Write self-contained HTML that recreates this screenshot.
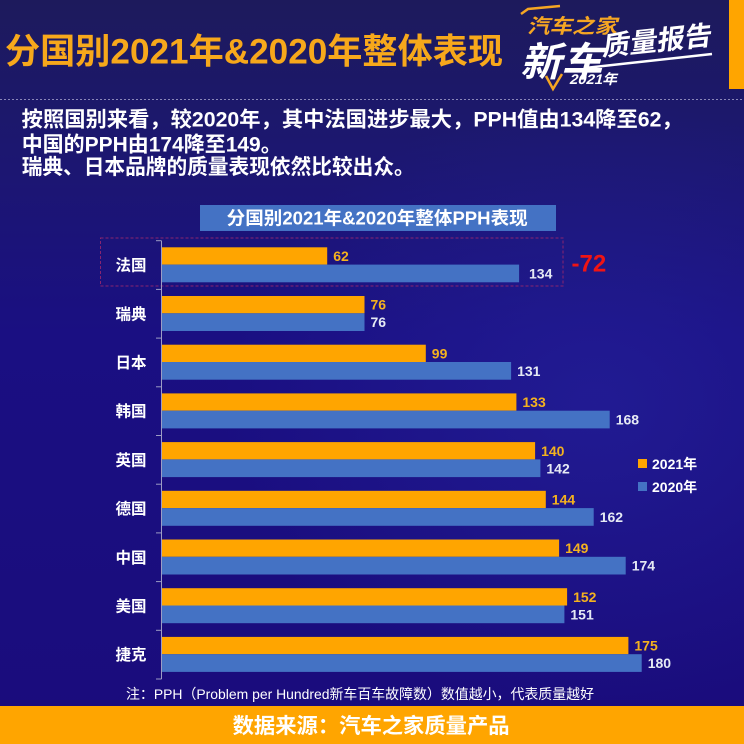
<!DOCTYPE html>
<html><head><meta charset="utf-8">
<style>
html,body{margin:0;padding:0;width:744px;height:744px;overflow:hidden;background:#1b1468;}
svg{display:block;}
text{font-family:"Liberation Sans","Noto Sans CJK SC",sans-serif;}
</style></head>
<body>
<svg width="744" height="744" viewBox="0 0 744 744" xmlns="http://www.w3.org/2000/svg">
<defs>
<linearGradient id="bg" x1="0" y1="0" x2="0" y2="1">
<stop offset="0" stop-color="#1d1a5c"/>
<stop offset="0.2" stop-color="#1c1770"/>
<stop offset="0.45" stop-color="#1a0f82"/>
<stop offset="1" stop-color="#1a0c7c"/>
</linearGradient>
<radialGradient id="glow" cx="0.8" cy="0.5" r="0.5">
<stop offset="0" stop-color="#2a2aa8" stop-opacity="0.45"/>
<stop offset="1" stop-color="#2a2aa8" stop-opacity="0"/>
</radialGradient>
</defs>
<rect x="0" y="0" width="744" height="744" fill="url(#bg)"/>
<rect x="0" y="100" width="744" height="606" fill="url(#glow)"/>

<!-- header -->
<rect x="729" y="0" width="15" height="89" fill="#FFA500"/>
<line x1="0" y1="99.5" x2="744" y2="99.5" stroke="#8a86b8" stroke-width="1" stroke-dasharray="2,2"/>
<text x="5" y="63.5" font-size="35" font-weight="bold" fill="#F7A81B" textLength="498" lengthAdjust="spacingAndGlyphs">分国别2021年&amp;2020年整体表现</text>

<!-- logo -->
<g>
<polyline points="521,14 528,9 560,6" fill="none" stroke="#F5A623" stroke-width="2.5"/>
<polyline points="546,76 553,89 562,74" fill="none" stroke="#F5A623" stroke-width="2.5"/>
<text x="0" y="0" font-size="20" font-weight="bold" fill="#F5A623" transform="translate(527,33) skewX(-15)" textLength="90" lengthAdjust="spacingAndGlyphs">汽车之家</text>
<text x="0" y="0" font-size="40" font-weight="bold" fill="#ffffff" transform="translate(520,76) skewX(-15)" textLength="82" lengthAdjust="spacingAndGlyphs">新车</text>
<text x="0" y="0" font-size="27" font-weight="bold" fill="#ffffff" transform="translate(602,56) rotate(-6) skewX(-12)" textLength="110" lengthAdjust="spacingAndGlyphs">质量报告</text>
<line x1="585" y1="68" x2="712" y2="54" stroke="#ffffff" stroke-width="2.5"/>
<text x="0" y="0" font-size="14" font-weight="bold" fill="#ffffff" transform="translate(569,84) skewX(-15)" textLength="48" lengthAdjust="spacingAndGlyphs">2021年</text>
</g>

<!-- body text -->
<text x="21.7" y="126.5" font-size="21" font-weight="bold" fill="#ffffff" textLength="661" lengthAdjust="spacingAndGlyphs">按照国别来看，较2020年，其中法国进步最大，PPH值由134降至62，</text>
<text x="21.7" y="151.5" font-size="21" font-weight="bold" fill="#ffffff" textLength="260" lengthAdjust="spacingAndGlyphs">中国的PPH由174降至149。</text>
<text x="21.7" y="174" font-size="21" font-weight="bold" fill="#ffffff" textLength="393" lengthAdjust="spacingAndGlyphs">瑞典、日本品牌的质量表现依然比较出众。</text>

<!-- chart title banner -->
<rect x="200" y="205" width="356" height="26" fill="#4472C4"/>
<text x="226.7" y="224.5" font-size="18" font-weight="bold" fill="#ffffff" textLength="301" lengthAdjust="spacingAndGlyphs">分国别2021年&amp;2020年整体PPH表现</text>

<!-- france dashed box -->
<rect x="100.5" y="238" width="462.5" height="48" fill="none" stroke="#8a2470" stroke-width="1" stroke-dasharray="3,2"/>
<text x="571.5" y="271.5" font-size="24" font-weight="bold" fill="#F01414">-72</text>

<!-- axis -->
<line x1="161.5" y1="240.7" x2="161.5" y2="679" stroke="#9c9cc4" stroke-width="1"/>
<g stroke="#9c9cc4" stroke-width="1">
<line x1="156" y1="240.7" x2="161.5" y2="240.7"/>
<line x1="156" y1="289.4" x2="161.5" y2="289.4"/>
<line x1="156" y1="338.1" x2="161.5" y2="338.1"/>
<line x1="156" y1="386.8" x2="161.5" y2="386.8"/>
<line x1="156" y1="435.5" x2="161.5" y2="435.5"/>
<line x1="156" y1="484.2" x2="161.5" y2="484.2"/>
<line x1="156" y1="532.9" x2="161.5" y2="532.9"/>
<line x1="156" y1="581.6" x2="161.5" y2="581.6"/>
<line x1="156" y1="630.3" x2="161.5" y2="630.3"/>
<line x1="156" y1="679" x2="161.5" y2="679"/>
</g>

<!-- bars -->
<g>
<rect x="162" y="247.3" width="165.2" height="17.3" fill="#FFA500"/>
<rect x="162" y="264.6" width="357.1" height="17.7" fill="#4472C4"/>
<rect x="162" y="296.0" width="202.5" height="17.3" fill="#FFA500"/>
<rect x="162" y="313.3" width="202.5" height="17.7" fill="#4472C4"/>
<rect x="162" y="344.7" width="263.8" height="17.3" fill="#FFA500"/>
<rect x="162" y="362.0" width="349.1" height="17.7" fill="#4472C4"/>
<rect x="162" y="393.4" width="354.4" height="17.3" fill="#FFA500"/>
<rect x="162" y="410.7" width="447.7" height="17.7" fill="#4472C4"/>
<rect x="162" y="442.1" width="373.1" height="17.3" fill="#FFA500"/>
<rect x="162" y="459.4" width="378.4" height="17.7" fill="#4472C4"/>
<rect x="162" y="490.8" width="383.8" height="17.3" fill="#FFA500"/>
<rect x="162" y="508.1" width="431.7" height="17.7" fill="#4472C4"/>
<rect x="162" y="539.5" width="397.1" height="17.3" fill="#FFA500"/>
<rect x="162" y="556.8" width="463.7" height="17.7" fill="#4472C4"/>
<rect x="162" y="588.2" width="405.1" height="17.3" fill="#FFA500"/>
<rect x="162" y="605.5" width="402.4" height="17.7" fill="#4472C4"/>
<rect x="162" y="636.9" width="466.4" height="17.3" fill="#FFA500"/>
<rect x="162" y="654.2" width="479.7" height="17.7" fill="#4472C4"/>
</g>

<!-- value labels -->
<g font-size="14" font-weight="bold">
<g fill="#F5B21E">
<text x="333.2" y="261">62</text>
<text x="370.5" y="309.7">76</text>
<text x="431.8" y="358.4">99</text>
<text x="522.4" y="407.1">133</text>
<text x="541.1" y="455.8">140</text>
<text x="551.8" y="504.5">144</text>
<text x="565.1" y="553.2">149</text>
<text x="573.1" y="601.9">152</text>
<text x="634.4" y="650.6">175</text>
</g>
<g fill="#E6EAF4">
<text x="529" y="278.5">134</text>
<text x="370.5" y="327.2">76</text>
<text x="517.1" y="375.9">131</text>
<text x="615.7" y="424.6">168</text>
<text x="546.4" y="473.3">142</text>
<text x="599.7" y="522">162</text>
<text x="631.7" y="570.7">174</text>
<text x="570.4" y="619.4">151</text>
<text x="647.7" y="668.1">180</text>
</g>
</g>

<!-- category labels -->
<g font-size="15.5" font-weight="bold" fill="#ffffff" text-anchor="middle">
<text x="131" y="270.6">法国</text>
<text x="131" y="319.3">瑞典</text>
<text x="131" y="368">日本</text>
<text x="131" y="416.7">韩国</text>
<text x="131" y="465.4">英国</text>
<text x="131" y="514.1">德国</text>
<text x="131" y="562.8">中国</text>
<text x="131" y="611.5">美国</text>
<text x="131" y="660.2">捷克</text>
</g>

<!-- legend -->
<rect x="638" y="459" width="9" height="9" fill="#FFA500"/>
<text x="652" y="469" font-size="14" font-weight="bold" fill="#ffffff">2021年</text>
<rect x="638" y="482" width="9" height="9" fill="#4472C4"/>
<text x="652" y="492" font-size="14" font-weight="bold" fill="#ffffff">2020年</text>

<!-- note -->
<text x="126" y="699" font-size="14" fill="#ffffff" textLength="468" lengthAdjust="spacingAndGlyphs">注：PPH（Problem per Hundred新车百车故障数）数值越小，代表质量越好</text>

<!-- footer -->
<rect x="0" y="706" width="744" height="38" fill="#FFA500"/>
<text x="232.6" y="733" font-size="21" font-weight="bold" fill="#ffffff" textLength="277" lengthAdjust="spacingAndGlyphs">数据来源：汽车之家质量产品</text>
</svg>
</body></html>
